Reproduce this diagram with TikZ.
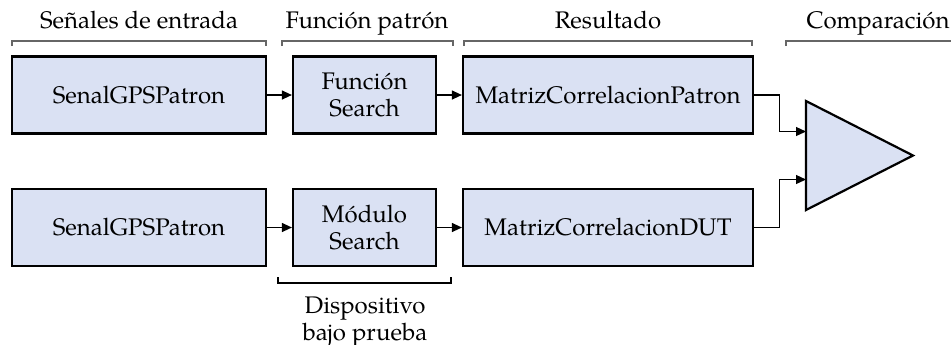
\documentclass[tikz,border=0pt]{standalone}
\usepackage{fontspec}
\setmainfont{texgyrepagella-regular.otf}
\usetikzlibrary{positioning,arrows.meta,shapes.geometric}
\definecolor{boxfill}{RGB}{218,225,243}

\tikzset{
  block/.style={draw=black,line width=1.1pt,fill=boxfill,minimum height=38.5pt,inner sep=2pt,align=center},
  cmpbox/.style={isosceles triangle,isosceles triangle stretches,draw=black,line width=1.1pt,fill=boxfill,
    minimum height=53.5pt,minimum width=54.5pt,inner sep=0pt,outer sep=0pt},
  arr/.style={-{Triangle[length=5pt,width=4.5pt]},line width=0.6pt},
  bracket/.style={draw=black!60,line width=0.6pt},
  lbl/.style={anchor=base,inner sep=0pt},
}

\begin{document}
\begin{tikzpicture}[x=0.5pt,y=-0.5pt,font=\fontsize{12}{13.5}\selectfont]
  \useasboundingbox (0,0) rectangle (951,344);
  % encabezados
  \node[lbl] (hSenal) at (139,28) {Señales de entrada};
  \node[lbl] (hFuncion) at (367,28) {Función patrón};
  \node[lbl] (hResult) at (608,28) {Resultado};
  \node[lbl] (hComp) at (878,28) {Comparación};
  \foreach \xa/\xb in {12/266,282/453,464/752,786/960}
    \draw[bracket] (\xa,46) -- (\xa,41) -- (\xb,41) -- (\xb,46);

  % fila superior
  \node[block,minimum width=127pt] (senal1) at (139,95) {SenalGPSPatron};
  \node[block,minimum width=71.5pt] (func) at (364.5,95) {Función\\Search};
  \node[block,minimum width=145pt] (mpat) at (608,95) {MatrizCorrelacionPatron};
  % fila inferior
  \node[block,minimum width=127pt] (senal2) at (139,227.5) {SenalGPSPatron};
  \node[block,minimum width=71.5pt] (modulo) at (364.5,227.5) {Módulo\\Search};
  \node[block,minimum width=145pt] (mdut) at (608,227.5) {MatrizCorrelacionDUT};

  \node[cmpbox,anchor=lower side] (cmp) at (806,155.5) {};

  \draw[arr] (senal1) -- (func);
  \draw[arr] (func) -- (mpat);
  \draw[arr] (senal2) -- (modulo);
  \draw[arr] (modulo) -- (mdut);
  \draw[arr] (mpat.east) -- ++(25,0) |- ([yshift=12pt]cmp.lower side);
  \draw[arr] (mdut.east) -- ++(25,0) |- ([yshift=-12pt]cmp.lower side);

  % dispositivo bajo prueba
  \draw[bracket,draw=black] (278,277) -- (278,283) -- (451,283) -- (451,277);
  \node[inner sep=0pt,anchor=north,align=center] (dut) at (365,296) {Dispositivo\\bajo prueba};
\end{tikzpicture}
\end{document}
